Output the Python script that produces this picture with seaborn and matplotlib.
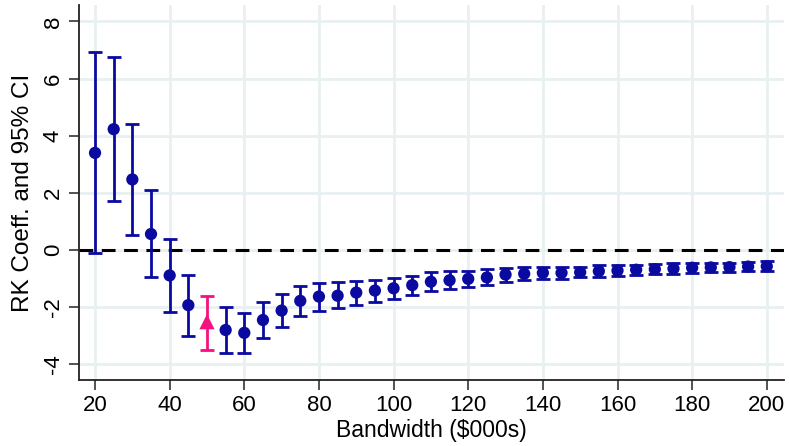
import matplotlib
matplotlib.use("Agg")
import matplotlib.pyplot as plt
import numpy as np
import pandas as pd
import seaborn as sns

# Regression-kink estimates by bandwidth ($000s) with 95% confidence bounds
bandwidth = [20, 25, 30, 35, 40, 45, 50, 55, 60, 65, 70, 75, 80, 85, 90, 95, 100,
             105, 110, 115, 120, 125, 130, 135, 140, 145, 150, 155, 160, 165, 170,
             175, 180, 185, 190, 195, 200]
coef = [3.40, 4.23, 2.47, 0.56, -0.89, -1.93, -2.51, -2.80, -2.90, -2.45, -2.12,
        -1.78, -1.63, -1.60, -1.49, -1.42, -1.34, -1.23, -1.11, -1.06, -1.01,
        -0.96, -0.86, -0.83, -0.80, -0.80, -0.78, -0.74, -0.72, -0.69, -0.67,
        -0.65, -0.62, -0.61, -0.60, -0.58, -0.57]
ci_upper = [6.93, 6.76, 4.42, 2.11, 0.38, -0.87, -1.62, -1.98, -2.20, -1.81, -1.54,
            -1.26, -1.14, -1.13, -1.07, -1.05, -0.99, -0.90, -0.78, -0.75, -0.72,
            -0.68, -0.62, -0.59, -0.59, -0.60, -0.60, -0.54, -0.53, -0.51, -0.49,
            -0.47, -0.45, -0.44, -0.44, -0.41, -0.40]
ci_lower = [-0.12, 1.71, 0.54, -0.96, -2.16, -3.00, -3.49, -3.59, -3.61, -3.09, -2.69,
            -2.30, -2.13, -2.04, -1.93, -1.81, -1.71, -1.57, -1.43, -1.38, -1.31,
            -1.22, -1.11, -1.06, -1.02, -1.00, -0.96, -0.93, -0.91, -0.88, -0.85,
            -0.83, -0.80, -0.78, -0.77, -0.75, -0.74]
preferred_bw = 50

x_ticks = [20, 40, 60, 80, 100, 120, 140, 160, 180, 200]
y_ticks = [-4, -2, 0, 2, 4, 6, 8]

NAVY = "#0a0aa0"
PINK = "#f7107f"
GRID = "#e8f0f2"

df = pd.DataFrame({"bw": bandwidth, "coef": coef, "lo": ci_lower, "hi": ci_upper})
df["group"] = np.where(df["bw"] == preferred_bw, "preferred", "other")

sns.set_theme(style="white")
plt.rcParams["font.family"] = ["Liberation Sans", "DejaVu Sans"]
plt.rcParams["text.color"] = "black"
plt.rcParams["axes.labelcolor"] = "black"
plt.rcParams["xtick.color"] = "black"
plt.rcParams["ytick.color"] = "black"

fig = plt.figure(figsize=(7.89, 4.46), dpi=100)
ax = fig.add_axes([0.1001, 0.148, 0.8935, 0.841])

ax.set_xlim(15.7, 204.6)
ax.set_ylim(-4.55, 8.58)

# light grid
for xv in x_ticks:
    ax.axvline(xv, color=GRID, lw=2.0, zorder=0)
for yv in y_ticks:
    ax.axhline(yv, color=GRID, lw=2.0, zorder=0)

ax.axhline(0, color="black", lw=2.2, ls=(0, (4.5, 2.8)), zorder=1)

colors = {"other": NAVY, "preferred": PINK}
for grp, sub in df.groupby("group"):
    ax.errorbar(sub["bw"], sub["coef"],
                yerr=[sub["coef"] - sub["lo"], sub["hi"] - sub["coef"]],
                fmt="none", ecolor=colors[grp], elinewidth=2.0,
                capsize=4.8, capthick=2.0, zorder=2)

sns.scatterplot(data=df, x="bw", y="coef", hue="group", style="group",
                palette=colors, markers={"other": "o", "preferred": "^"},
                size="group", sizes={"other": 78, "preferred": 120},
                linewidth=0, legend=False, ax=ax, zorder=3)

ax.set_xticks(x_ticks)
ax.set_yticks(y_ticks)
ax.set_xticklabels([str(v) for v in x_ticks], fontsize=16)
ax.set_yticklabels([str(v) for v in y_ticks], fontsize=16, rotation=90, va="center")
ax.tick_params(axis="both", direction="out", length=7, width=1.2, color="#333333",
               labelcolor="black", pad=4, left=True, bottom=True)

ax.set_xlabel("Bandwidth ($000s)", fontsize=16.5, labelpad=2)
ax.set_ylabel("RK Coeff. and 95% CI", fontsize=17.5, labelpad=6)

for side in ["top", "right"]:
    ax.spines[side].set_visible(False)
for side in ["left", "bottom"]:
    ax.spines[side].set_color("#222222")
    ax.spines[side].set_linewidth(1.3)

fig.savefig("out.png", dpi=100, facecolor="white")
